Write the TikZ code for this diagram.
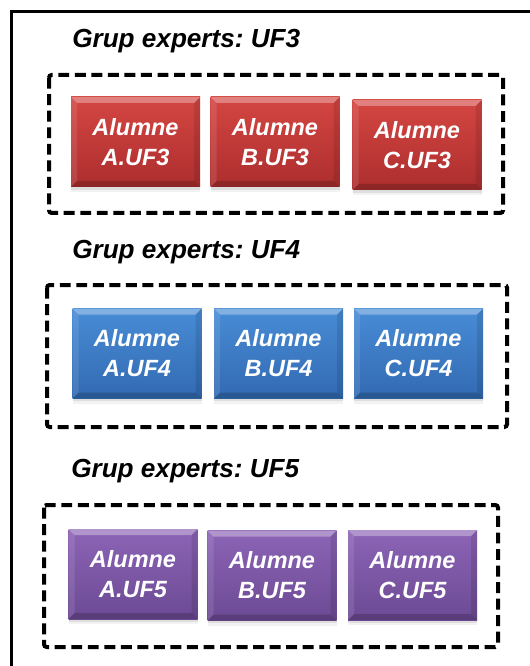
\documentclass[tikz,border=0pt]{standalone}
\usepackage{fontspec}
\setmainfont{Liberation Sans}
\usetikzlibrary{shadows}
\frenchspacing
\definecolor{redtop}{RGB}{212,70,66}
\definecolor{redbot}{RGB}{172,46,46}
\definecolor{bluetop}{RGB}{72,140,214}
\definecolor{bluebot}{RGB}{50,106,178}
\definecolor{purptop}{RGB}{140,100,182}
\definecolor{purpbot}{RGB}{108,74,148}
\newcommand\boxfont{\fontsize{17.6pt}{22.5pt}\selectfont\bfseries\itshape}
\newcommand\titlefont{\fontsize{19.6pt}{22pt}\selectfont\bfseries\itshape}
\tikzset{
  stubox/.style={minimum width=96.75pt, minimum height=67.5pt, inner sep=0pt,
    text=white, font=\boxfont, align=center,
    top color=#1top, bottom color=#1bot,
    drop shadow={shadow xshift=0pt, shadow yshift=-2pt, opacity=.18},
    drop shadow={shadow xshift=0pt, shadow yshift=-4pt, opacity=.10},
    path picture={
      \fill[white,opacity=.32] (path picture bounding box.north west) -- (path picture bounding box.north east)
        -- ([shift={(-6,6)}]path picture bounding box.north east) -- ([shift={(6,6)}]path picture bounding box.north west) -- cycle;
      \fill[black,opacity=.18] (path picture bounding box.south west) -- (path picture bounding box.south east)
        -- ([shift={(-6,-6)}]path picture bounding box.south east) -- ([shift={(6,-6)}]path picture bounding box.south west) -- cycle;
      \fill[white,opacity=.10] (path picture bounding box.north west) -- ([shift={(6,6)}]path picture bounding box.north west)
        -- ([shift={(6,-6)}]path picture bounding box.south west) -- (path picture bounding box.south west) -- cycle;
      \fill[black,opacity=.10] (path picture bounding box.north east) -- ([shift={(-6,6)}]path picture bounding box.north east)
        -- ([shift={(-6,-6)}]path picture bounding box.south east) -- (path picture bounding box.south east) -- cycle;
    }},
  groupbox/.style={draw=black, line width=3pt, dash pattern=on 8.2pt off 4.2pt, rounded corners=2pt},
  grouptitle/.style={anchor=base west, inner sep=0pt, font=\titlefont},
  frame/.style={line width=2pt}
}
\begin{document}
\begin{tikzpicture}[x=0.75pt,y=-0.75pt]
\useasboundingbox (0,0) rectangle (530,666);
\coordinate (fbl) at (11.5,667);
\coordinate (ftl) at (11.5,11.5);
\coordinate (ftr) at (531,11.5);
\draw[frame] (fbl) -- (ftl) -- (ftr);

% group UF3
\node[grouptitle] (t3) at (72,48) {Grup experts: UF3};
\draw[groupbox] (49,75) rectangle (503,213);
\node[stubox=red] (a3) at (135.5,142) {Alumne\\A.UF3};
\node[stubox=red] (b3) at (275,142) {Alumne\\B.UF3};
\node[stubox=red] (c3) at (417,145) {Alumne\\C.UF3};

% group UF4
\node[grouptitle] (t4) at (72,258) {Grup experts: UF4};
\draw[groupbox] (47,285) rectangle (507,427);
\node[stubox=blue] (a4) at (137,353.5) {Alumne\\A.UF4};
\node[stubox=blue] (b4) at (278.5,353.5) {Alumne\\B.UF4};
\node[stubox=blue] (c4) at (418.5,353.5) {Alumne\\C.UF4};

% group UF5
\node[grouptitle] (t5) at (71,477) {Grup experts: UF5};
\draw[groupbox] (44,505) rectangle (498,647);
\node[stubox=purp] (a5) at (133,574) {Alumne\\A.UF5};
\node[stubox=purp] (b5) at (272,575.5) {Alumne\\B.UF5};
\node[stubox=purp] (c5) at (412.5,575) {Alumne\\C.UF5};
\end{tikzpicture}
\end{document}
